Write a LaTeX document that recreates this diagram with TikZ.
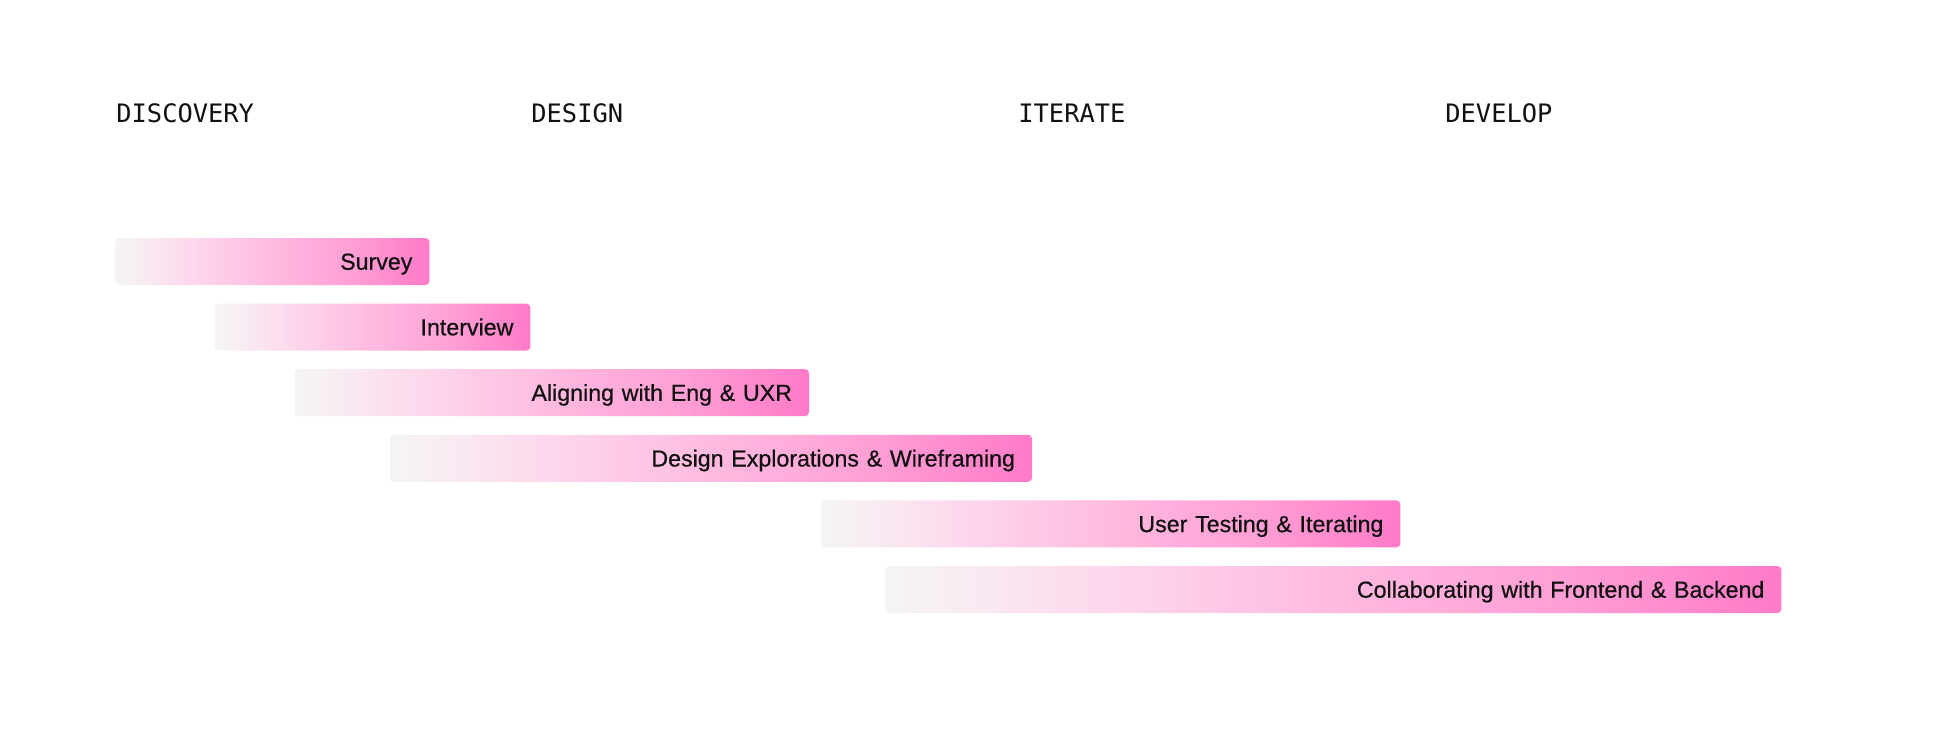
\documentclass[tikz,border=0pt]{standalone}
\usepackage{fontspec}
\newfontfamily\barfont{Liberation Sans}[FakeBold=0.6]
\newfontfamily\headfont{DejaVu Sans Mono}
\definecolor{g0}{HTML}{F5F4F5}
\definecolor{g5}{HTML}{F7F0F4}
\definecolor{g1}{HTML}{FDD7EC}
\definecolor{g2}{HTML}{FFBAE0}
\definecolor{g3}{HTML}{FF9FD5}
\definecolor{g4}{HTML}{FF7AC8}
\definecolor{ink}{HTML}{111111}
\pgfdeclarehorizontalshading{barshade}{100bp}{color(0bp)=(g0); color(25bp)=(g0); color(27.5bp)=(g5); color(37.5bp)=(g1); color(50bp)=(g2); color(62.5bp)=(g3); color(75bp)=(g4); color(100bp)=(g4)}
\tikzset{
  head/.style={anchor=base west, inner sep=0pt, font=\headfont\fontsize{12.7}{14}\selectfont, text=ink},
  bar/.style={anchor=west, shade, shading=barshade, rounded corners=2pt, minimum height=23.5pt,
    inner xsep=8.5pt, inner ysep=0pt, text height=8.2pt, text depth=0pt, align=right,
    font=\barfont\fontsize{11.6}{13}\selectfont, text=ink},
}
\begin{document}
\begin{tikzpicture}[x=0.5pt,y=-0.5pt]
\useasboundingbox[fill=white] (0,0) rectangle (1933,736);
\node[head] (discovery) at (116,122) {DISCOVERY};
\node[head] (design) at (531,122) {DESIGN};
\node[head] (iterate) at (1018,122) {ITERATE};
\node[head] (develop) at (1445,122) {DEVELOP};
\node[bar, text width=140pt] (survey) at (115,261.5) {Survey};
\node[bar, text width=140.75pt] (interview) at (214.5,327.1) {Interview};
\node[bar, text width=240pt] (aligning) at (294.6,392.7) {Aligning with Eng \& UXR};
\node[bar, text width=304pt] (explore) at (389.6,458.3) {Design Explorations \& Wireframing};
\node[bar, text width=272.5pt] (testing) at (821,523.9) {User Testing \& Iterating};
\node[bar, text width=431pt] (collab) at (885,589.5) {Collaborating with Frontend \& Backend};
\end{tikzpicture}
\end{document}
